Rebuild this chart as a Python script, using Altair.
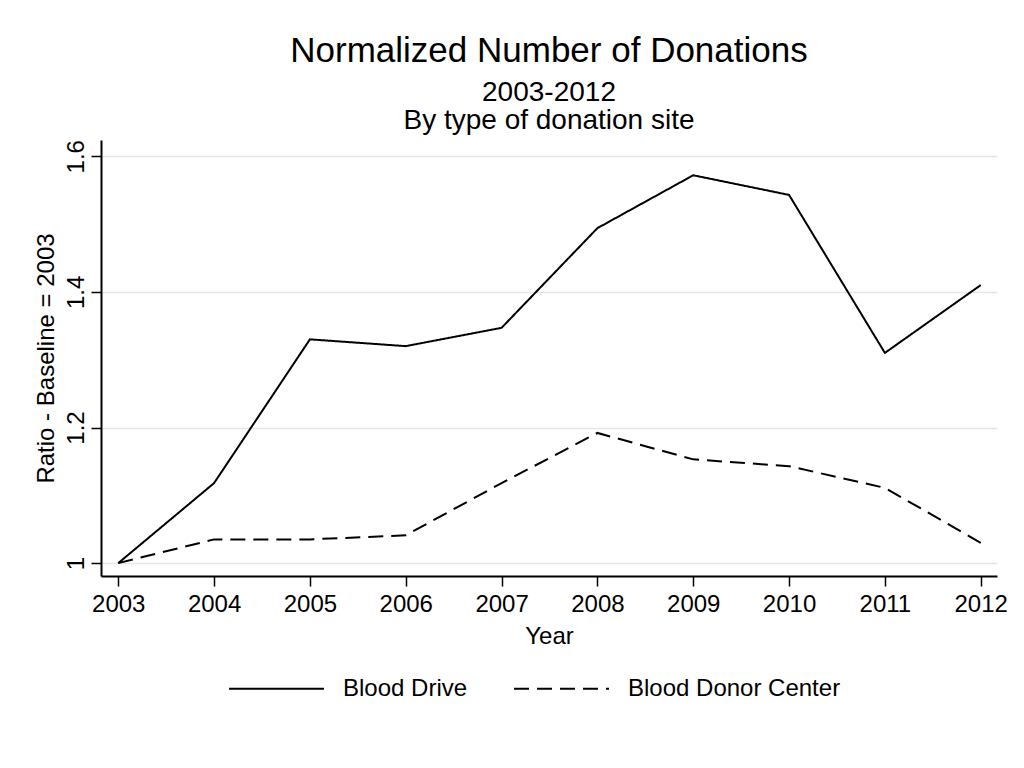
import altair as alt
import pandas as pd

years = list(range(2003, 2013))
blood_drive = [1.0, 1.118, 1.330, 1.320, 1.347, 1.494, 1.572, 1.543, 1.310, 1.410]
donor_center = [1.0, 1.035, 1.035, 1.041, 1.118, 1.192, 1.153, 1.143, 1.111, 1.030]
series_names = ["Blood Drive", "Blood Donor Center"]
y_ticks = [1.0, 1.2, 1.4, 1.6]

df = pd.DataFrame({
    "Year": years * 2,
    "Ratio": blood_drive + donor_center,
    "Series": [series_names[0]] * len(years) + [series_names[1]] * len(years),
})

FONT = "Liberation Sans"

chart = alt.Chart(df).mark_line(color="black", strokeWidth=2).encode(
    x=alt.X("Year:Q",
            scale=alt.Scale(domain=[2002.82, 2012.17], nice=False, zero=False),
            axis=alt.Axis(values=years, format="d", title="Year", grid=False,
                          domainColor="black", domainWidth=2, tickColor="black",
                          tickWidth=1.5, tickSize=10, labelFontSize=24, titleFontSize=24,
                          labelFont=FONT, titleFont=FONT, titleFontWeight="normal",
                          labelColor="black", titleColor="black", labelPadding=6,
                          titlePadding=8)),
    y=alt.Y("Ratio:Q",
            scale=alt.Scale(domain=[0.981, 1.624], nice=False, zero=False),
            axis=alt.Axis(values=y_ticks, format="~g", title="Ratio - Baseline = 2003",
                          grid=True, gridColor="#e6e6e6", gridWidth=1.5,
                          domainColor="black", domainWidth=2, tickColor="black",
                          tickWidth=1.5, tickSize=10, labelFontSize=24, titleFontSize=24,
                          labelFont=FONT, titleFont=FONT, titleFontWeight="normal",
                          labelColor="black", titleColor="black", labelAngle=270,
                          labelAlign="center", labelBaseline="bottom", labelPadding=3,
                          titlePadding=6)),
    strokeDash=alt.StrokeDash("Series:N",
                              scale=alt.Scale(domain=series_names, range=[[1, 0], [15, 8]]),
                              legend=alt.Legend(title=None, orient="none", direction="horizontal",
                                                legendX=127, legendY=500,
                                                symbolType="stroke", symbolSize=9025,
                                                symbolStrokeColor="black", symbolStrokeWidth=2,
                                                labelFontSize=24, labelFont=FONT,
                                                labelColor="black", labelOffset=18,
                                                labelLimit=400,
                                                columnPadding=42, padding=0)),
).properties(
    width=896,
    height=436,
    title=alt.TitleParams(
        text="Normalized Number of Donations",
        subtitle=["2003-2012", "By type of donation site"],
        fontSize=35, subtitleFontSize=28, font=FONT, subtitleFont=FONT,
        fontWeight="normal", color="black", subtitleColor="black",
        anchor="middle", offset=5, subtitlePadding=10, subtitleLineHeight=28,
    ),
    autosize=alt.AutoSizeParams(type="none"),
    padding={"left": 93, "top": 132, "right": 19, "bottom": 180},
).configure_view(stroke=None)

chart.save("out.html", embed_options={"renderer": "svg", "actions": False})
